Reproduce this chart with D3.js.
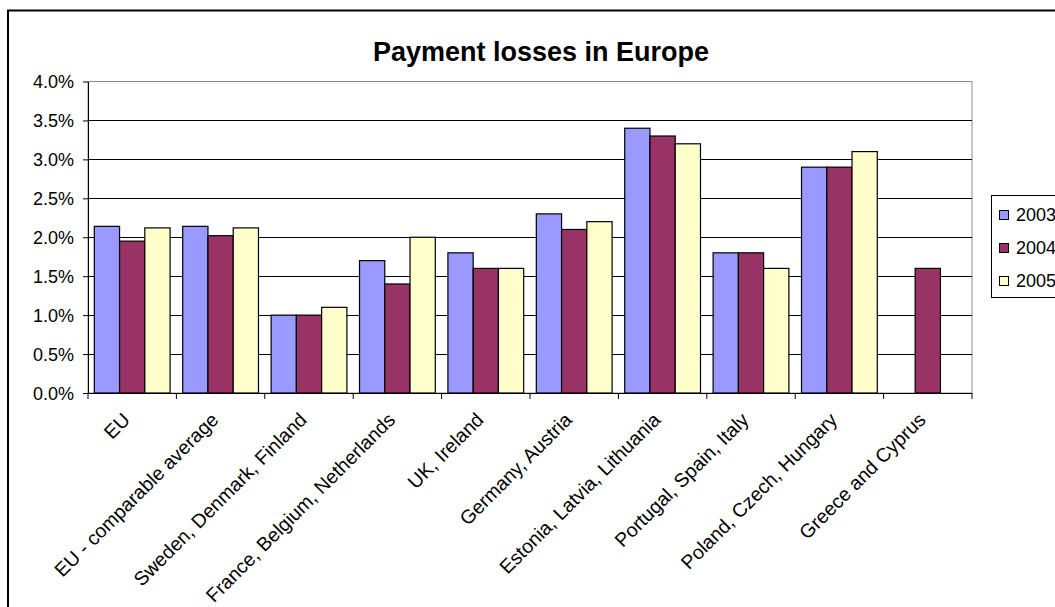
<!DOCTYPE html>
<html>
<head>
<meta charset="utf-8">
<script src="https://cdn.jsdelivr.net/npm/d3@7"></script>
<style>
  html, body { margin: 0; padding: 0; background: #fff; }
  svg { display: block; font-family: "Liberation Sans", Arial, sans-serif; }
</style>
</head>
<body>
<svg id="chart" width="1055" height="607"></svg>
<script>
// Payment losses by region, percent of turnover
const categories = [
  "EU",
  "EU - comparable average",
  "Sweden, Denmark, Finland",
  "France, Belgium, Netherlands",
  "UK, Ireland",
  "Germany, Austria",
  "Estonia, Latvia, Lithuania",
  "Portugal, Spain, Italy",
  "Poland, Czech, Hungary",
  "Greece and Cyprus"
];
const years = ["2003", "2004", "2005"];
const values2003 = [2.14, 2.14, 1.0, 1.7, 1.8, 2.3, 3.4, 1.8, 2.9, null];
const values2004 = [1.95, 2.02, 1.0, 1.4, 1.6, 2.1, 3.3, 1.8, 2.9, 1.6];
const values2005 = [2.12, 2.12, 1.1, 2.0, 1.6, 2.2, 3.2, 1.6, 3.1, null];
const yTicks = [0, 0.5, 1.0, 1.5, 2.0, 2.5, 3.0, 3.5, 4.0];
const colors = ["#9999FF", "#993366", "#FFFFCC"];

const seriesValues = [values2003, values2004, values2005];

const svg = d3.select("#chart");
const plot = { left: 88, right: 972, top: 81.5, bottom: 393 };

// outer chart frame
svg.append("rect")
  .attr("x", 8).attr("y", 10.5)
  .attr("width", 1100).attr("height", 700)
  .attr("fill", "#fff").attr("stroke", "#000").attr("stroke-width", 2);

// title
svg.append("text")
  .attr("x", 541).attr("y", 61)
  .attr("text-anchor", "middle")
  .attr("font-size", 27).attr("font-weight", "bold")
  .text("Payment losses in Europe");

const x0 = d3.scaleBand().domain(categories).range([plot.left, plot.right]).paddingInner(0).paddingOuter(0);
// 150% gap width: three bars of width w plus 1.5w gap per category
const x1 = d3.scaleBand().domain(years).range([0, x0.bandwidth()]).paddingOuter(0.25).paddingInner(0);
const y = d3.scaleLinear().domain([0, 4]).range([plot.bottom, plot.top]);

// plot area border
svg.append("rect")
  .attr("x", plot.left).attr("y", plot.top)
  .attr("width", plot.right - plot.left).attr("height", plot.bottom - plot.top)
  .attr("fill", "none").attr("stroke", "#8c8c8c").attr("stroke-width", 1);

// gridlines
svg.append("g").selectAll("line")
  .data(yTicks.filter(t => t > 0 && t < 4))
  .join("line")
  .attr("x1", plot.left).attr("x2", plot.right)
  .attr("y1", d => Math.round(y(d)) + 0.5).attr("y2", d => Math.round(y(d)) + 0.5)
  .attr("stroke", "#000").attr("stroke-width", 1);

// bars
const groups = svg.append("g").selectAll("g")
  .data(categories)
  .join("g")
  .attr("transform", d => `translate(${x0(d)},0)`);

groups.selectAll("rect")
  .data((d, i) => years.map((yr, k) => ({ yr, k, v: seriesValues[k][i] })).filter(e => e.v !== null))
  .join("rect")
  .attr("x", d => x1(d.yr))
  .attr("y", d => y(d.v))
  .attr("width", x1.bandwidth())
  .attr("height", d => y(0) - y(d.v))
  .attr("fill", d => colors[d.k])
  .attr("stroke", "#000").attr("stroke-width", 1.2);

// y axis
const yAxis = d3.axisLeft(y).tickValues(yTicks).tickSize(5).tickSizeOuter(0)
  .tickFormat(d => d3.format(".1f")(d) + "%");
const yg = svg.append("g").attr("transform", `translate(${plot.left},0)`).call(yAxis);
yg.select(".domain").attr("stroke", "#000");
yg.selectAll(".tick line").attr("stroke", "#000");
yg.selectAll(".tick text")
  .attr("font-size", 18).attr("font-family", "Liberation Sans, Arial, sans-serif")
  .attr("fill", "#000").attr("x", -14).attr("dy", "0.35em");

// x axis with tick marks at category boundaries
svg.append("line")
  .attr("x1", plot.left).attr("x2", plot.right)
  .attr("y1", plot.bottom + 0.5).attr("y2", plot.bottom + 0.5)
  .attr("stroke", "#000");
const boundaries = d3.range(categories.length + 1).map(i => plot.left + i * x0.bandwidth());
svg.append("g").selectAll("line")
  .data(boundaries)
  .join("line")
  .attr("x1", d => d).attr("x2", d => d)
  .attr("y1", plot.bottom).attr("y2", plot.bottom + 6)
  .attr("stroke", "#000");

// rotated category labels
svg.append("g").selectAll("text")
  .data(categories)
  .join("text")
  .attr("transform", d => `translate(${x0(d) + x0.bandwidth() / 2 - 1},${plot.bottom + 28}) rotate(-45)`)
  .attr("text-anchor", "end")
  .attr("font-size", 19.5)
  .text(d => d);

// legend
const legend = svg.append("g");
legend.append("rect")
  .attr("x", 991.5).attr("y", 195.5).attr("width", 100).attr("height", 102)
  .attr("fill", "#fff").attr("stroke", "#000");
years.forEach((yr, k) => {
  const cy = 215 + k * 33;
  legend.append("rect")
    .attr("x", 999.5).attr("y", cy - 4.5).attr("width", 9).attr("height", 9)
    .attr("fill", colors[k]).attr("stroke", "#000");
  legend.append("text")
    .attr("x", 1016).attr("y", cy).attr("dy", "0.35em")
    .attr("font-size", 18)
    .text(yr);
});
</script>
</body>
</html>
